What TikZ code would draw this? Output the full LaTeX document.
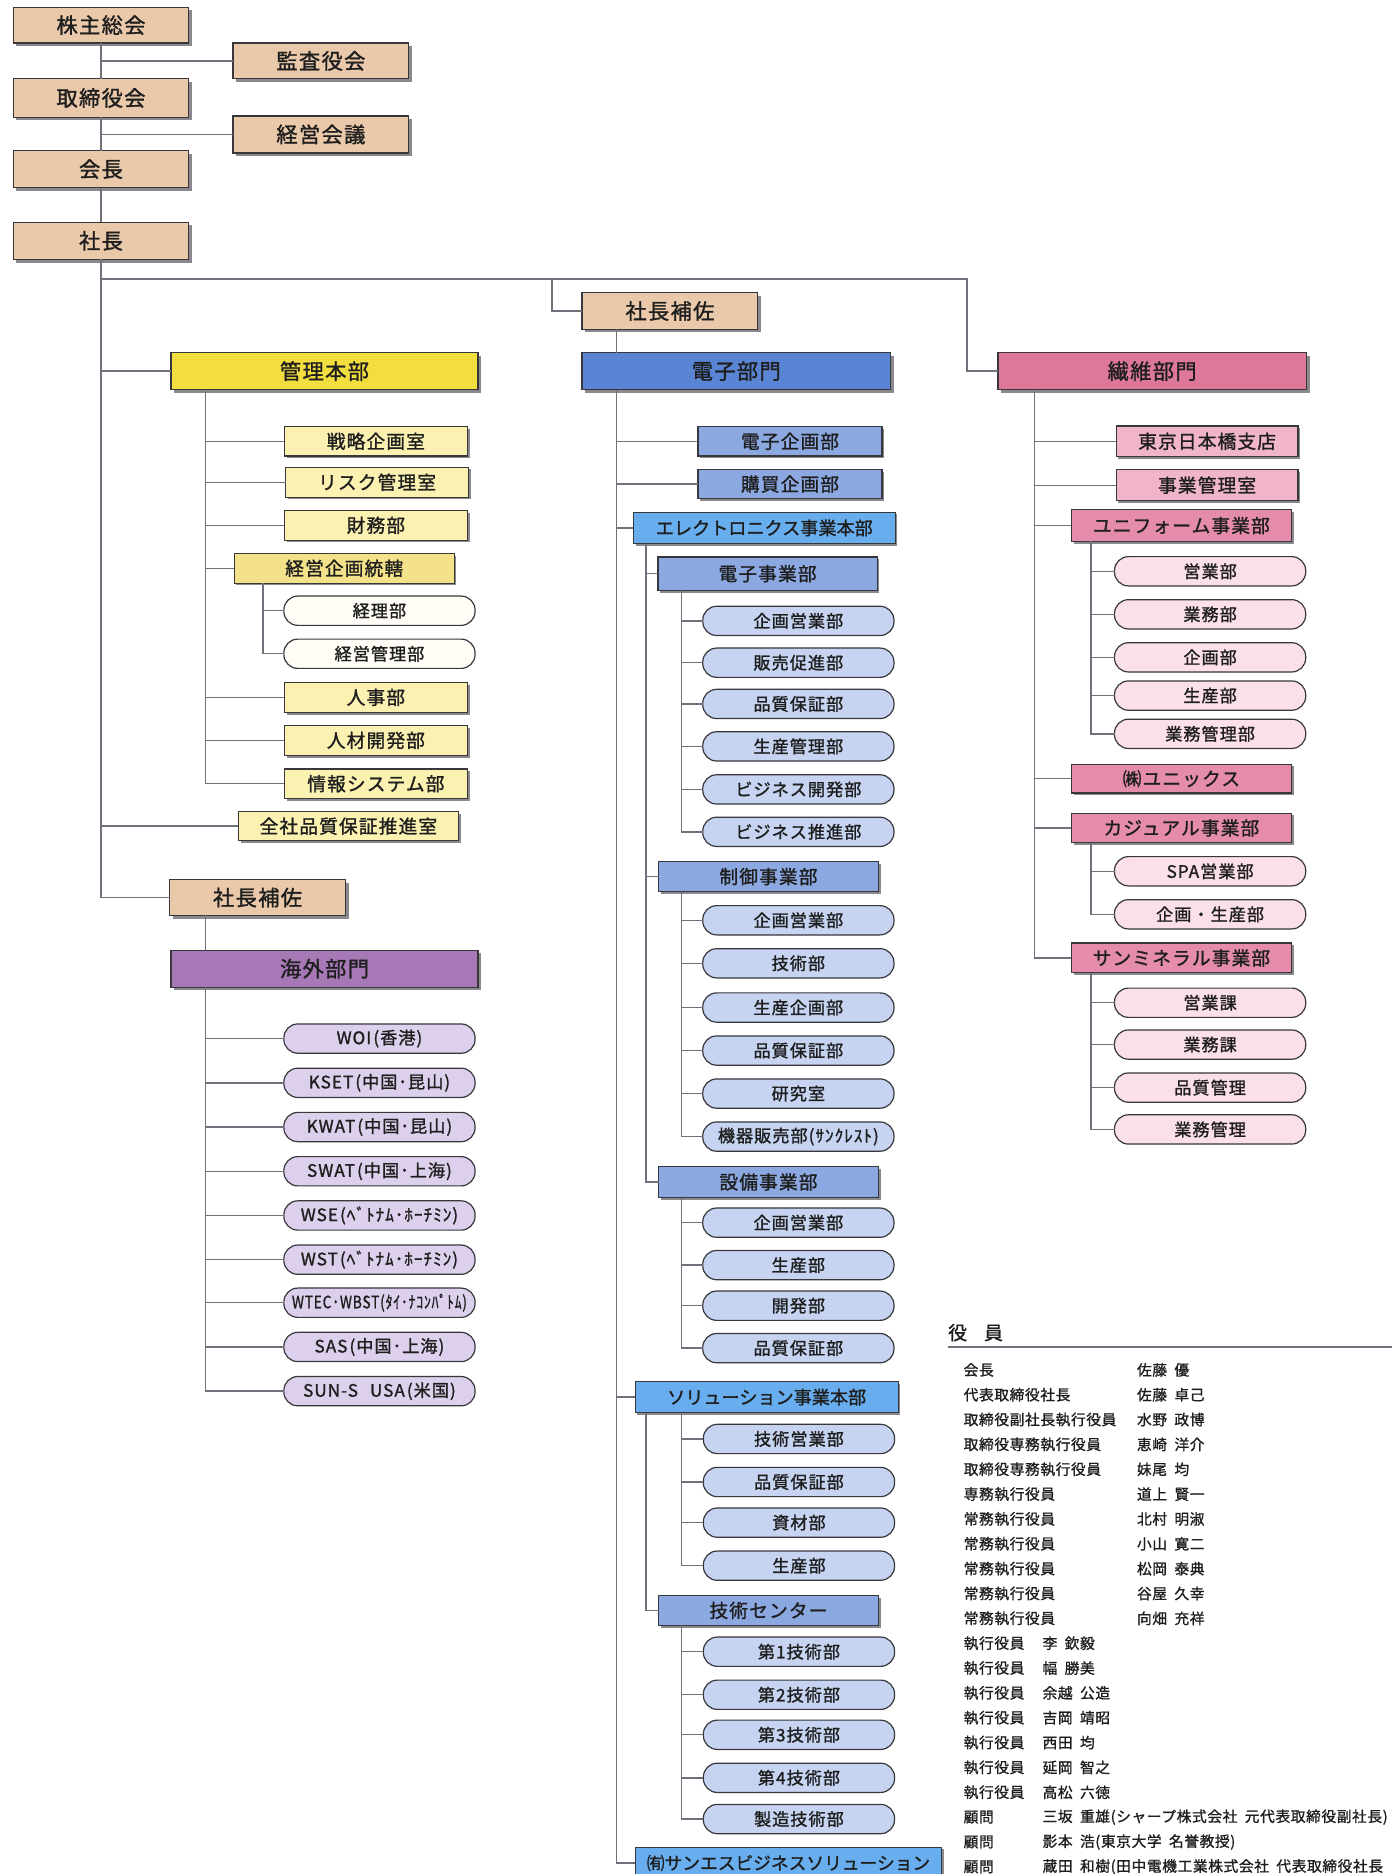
\documentclass[tikz,border=0pt]{standalone}
\usepackage{fontspec}
\usepackage{graphicx}
\setmainfont{Noto Sans CJK JP}
\newfontfamily\bxf[LetterSpace=6,FakeBold=1.3]{Noto Sans CJK JP}
\newfontfamily\bxn[FakeBold=1.3]{Noto Sans CJK JP}
\newfontfamily\tbf[LetterSpace=4,FakeBold=1.1]{Noto Sans CJK JP}
\usetikzlibrary{shadows}
\definecolor{linec}{RGB}{112,112,122}
\definecolor{bordc}{RGB}{55,55,60}
\definecolor{shadc}{RGB}{125,125,130}
\definecolor{txtc}{RGB}{30,30,30}
\definecolor{beige}{RGB}{234,201,170}
\definecolor{ylw}{RGB}{243,222,64}
\definecolor{ylwl}{RGB}{251,242,178}
\definecolor{ylwm}{RGB}{243,226,138}
\definecolor{pillw}{RGB}{255,253,246}
\definecolor{purp}{RGB}{166,120,182}
\definecolor{purpl}{RGB}{221,208,236}
\definecolor{blu}{RGB}{90,133,212}
\definecolor{blum}{RGB}{140,168,224}
\definecolor{blub}{RGB}{104,174,238}
\definecolor{blul}{RGB}{198,212,242}
\definecolor{pnk}{RGB}{222,120,153}
\definecolor{pnkl}{RGB}{241,181,203}
\definecolor{pnkm}{RGB}{229,140,172}
\definecolor{pnkp}{RGB}{251,223,233}
\newcommand\bx[7]{\node[#6, minimum width={(#4-#2)*0.6pt}, minimum height={(#5-#3)*0.6pt}] (#1) at ({(#2+#4)/2},{(#3+#5)/2}) {#7};}
\newcommand\pl[5]{\node[pill, fill=#4] (#1) at (#2,#3) {#5};}
\newcommand\sk{\hspace{0.5em}}
\newcommand\lp{\hspace{0.12em}(}
\newcommand\rp{)\hspace{0.12em}}
\begin{document}
\begin{tikzpicture}[x=0.6pt,y=-0.6pt,
  conn/.style={draw=linec, line width=0.7pt},
  base/.style={draw=bordc, line width=0.6pt, inner sep=0pt, outer sep=0pt, text=txtc},
  mainbox/.style={base, font=\bxf\fontsize{10.7}{12}\selectfont,
     drop shadow={shadow xshift=1.6pt, shadow yshift=-1.6pt, fill=shadc, opacity=0.9}},
  subbox/.style={base, font=\bxf\fontsize{9.4}{11}\selectfont,
     drop shadow={shadow xshift=1.1pt, shadow yshift=-1.1pt, fill=shadc, opacity=0.9}},
  longtxt/.style={font=\bxn\fontsize{9.1}{11}\selectfont},
  pill/.style={base, rounded corners=7pt, minimum width=96pt, minimum height=14.7pt,
     font=\bxf\fontsize{8.6}{10}\selectfont},
  tbl/.style={anchor=west, inner sep=0pt, text=txtc, font=\tbf\fontsize{7.4}{9}\selectfont},
  ttl/.style={anchor=west, inner sep=0pt, text=txtc, font=\tbf\fontsize{9.5}{11}\selectfont}
]
\fill[white] (0,0) rectangle (1165,1568);
\useasboundingbox (0,0) rectangle (1165,1568);

% ---------------- top chain
\bx{kabu}{11}{6}{158}{36}{mainbox,fill=beige}{株主総会}
\bx{kansa}{195}{36}{342}{66}{mainbox,fill=beige}{監査役会}
\bx{tori}{11}{66}{158}{98}{mainbox,fill=beige}{取締役会}
\bx{keiei}{195}{97}{342}{128}{mainbox,fill=beige}{経営会議}
\bx{kaicho}{11}{126}{158}{157}{mainbox,fill=beige}{会長}
\bx{shacho}{11}{186}{158}{217}{mainbox,fill=beige}{社長}

\coordinate (hm) at (461.7,233.5);
\coordinate (hr) at (809,233.5);
\coordinate (tK) at (172,0);
\coordinate (tKT) at (220,0);
\coordinate (tD) at (515.6,0);
\coordinate (tE) at (540.4,0);
\coordinate (tP) at (570,0);
\coordinate (tS) at (865.5,0);
\coordinate (tU) at (913,0);

% ---------------- left: 管理本部
\bx{kanri}{143}{295}{400}{326}{mainbox,fill=ylw}{管理本部}
\bx{senryaku}{238}{357}{391}{381.5}{subbox,fill=ylwl}{戦略企画室}
\bx{risk}{239}{391}{392}{416}{subbox,fill=ylwl}{リスク管理室}
\bx{zaimu}{238}{427}{391}{452}{subbox,fill=ylwl}{財務部}
\bx{tokatsu}{196}{463}{380}{488}{subbox,fill=ylwm}{経営企画統轄}
\pl{keiri}{317.5}{511}{pillw}{経理部}
\pl{keikan}{317.5}{547}{pillw}{経営管理部}
\bx{jinji}{238}{571}{391}{596}{subbox,fill=ylwl}{人事部}
\bx{jinzai}{238}{607}{391}{632}{subbox,fill=ylwl}{人材開発部}
\bx{joho}{238}{643.5}{391}{668}{subbox,fill=ylwl}{情報システム部}
\bx{zensha}{199.5}{679}{383.5}{703.5}{subbox,fill=ylwl}{全社品質保証推進室}

% ---------------- left: 海外部門
\bx{hosa2}{142}{736}{289}{766}{mainbox,fill=beige}{社長補佐}
\bx{kaigai}{143}{795}{400}{826}{mainbox,fill=purp}{海外部門}
\pl{woi}{317.5}{869}{purpl}{WOI\lp 香港\rp}
\pl{kset}{317.5}{906}{purpl}{KSET\lp 中国･昆山\rp}
\pl{kwat}{317.5}{943}{purpl}{KWAT\lp 中国･昆山\rp}
\pl{swat}{317.5}{980}{purpl}{SWAT\lp 中国･上海\rp}
\pl{wse}{317.5}{1017}{purpl}{WSE\lp ﾍﾞﾄﾅﾑ･ﾎｰﾁﾐﾝ\rp}
\pl{wst}{317.5}{1054}{purpl}{WST\lp ﾍﾞﾄﾅﾑ･ﾎｰﾁﾐﾝ\rp}
\pl{wtec}{317.5}{1090}{purpl}{\scalebox{0.8}[1]{WTEC･WBST(ﾀｲ･ﾅｺﾝﾊﾟﾄﾑ)}}
\pl{sas}{317.5}{1127}{purpl}{SAS\lp 中国･上海\rp}
\pl{suns}{317.5}{1164}{purpl}{SUN-S\hspace{0.7em}USA\lp 米国\rp}

% ---------------- middle: 電子部門
\bx{hosa1}{487}{245}{634}{275.5}{mainbox,fill=beige}{社長補佐}
\bx{denshi}{487}{295}{745}{326}{mainbox,fill=blu}{電子部門}
\bx{dkikaku}{584}{357}{738}{381.5}{subbox,fill=blum}{電子企画部}
\bx{kobai}{584}{393}{738}{417}{subbox,fill=blum}{購買企画部}
\bx{elec}{530}{428.5}{749}{455}{subbox,longtxt,fill=blub}{エレクトロニクス事業本部}
\bx{denji}{550.5}{466}{734}{494}{subbox,fill=blum}{電子事業部}
\pl{d1}{668}{519.5}{blul}{企画営業部}
\pl{d2}{668}{554.5}{blul}{販売促進部}
\pl{d3}{668}{589}{blul}{品質保証部}
\pl{d4}{668}{624.5}{blul}{生産管理部}
\pl{d5}{668}{660.5}{blul}{ビジネス開発部}
\pl{d6}{668}{696}{blul}{ビジネス推進部}
\bx{seigyo}{551}{721}{735}{746}{subbox,fill=blum}{制御事業部}
\pl{c1}{668}{770}{blul}{企画営業部}
\pl{c2}{668}{806}{blul}{技術部}
\pl{c3}{668}{843}{blul}{生産企画部}
\pl{c4}{668}{879}{blul}{品質保証部}
\pl{c5}{668}{915}{blul}{研究室}
\pl{c6}{668}{951}{blul}{機器販売部(ｻﾝｸﾚｽﾄ)}
\bx{setsubi}{551}{976}{735}{1002}{subbox,fill=blum}{設備事業部}
\pl{s1}{668}{1023}{blul}{企画営業部}
\pl{s2}{668}{1058.5}{blul}{生産部}
\pl{s3}{668}{1092.5}{blul}{開発部}
\pl{s4}{668}{1128}{blul}{品質保証部}
\bx{sol}{531.5}{1156}{751.5}{1182}{subbox,longtxt,fill=blub}{ソリューション事業本部}
\pl{o1}{668.5}{1204}{blul}{技術営業部}
\pl{o2}{668.5}{1240}{blul}{品質保証部}
\pl{o3}{668.5}{1274}{blul}{資材部}
\pl{o4}{668.5}{1310}{blul}{生産部}
\bx{gc}{551}{1335}{735}{1360}{subbox,fill=blum}{技術センター}
\pl{g1}{668.5}{1382}{blul}{第1技術部}
\pl{g2}{668.5}{1418}{blul}{第2技術部}
\pl{g3}{668.5}{1451.5}{blul}{第3技術部}
\pl{g4}{668.5}{1487.5}{blul}{第4技術部}
\pl{g5}{668.5}{1522}{blul}{製造技術部}
\bx{sanes}{531.5}{1545.5}{788}{1572}{subbox,fill=blub,font=\bxn\fontsize{8.9}{11}\selectfont}{㈲サンエスビジネスソリューション}

% ---------------- right: 繊維部門
\bx{sen}{835}{295}{1093}{326}{mainbox,fill=pnk}{繊維部門}
\bx{tokyo}{934}{356.5}{1086}{382}{subbox,fill=pnkl}{東京日本橋支店}
\bx{jigyo}{934}{393}{1086}{419}{subbox,fill=pnkl}{事業管理室}
\bx{uni}{896.5}{426.5}{1080.5}{453}{subbox,fill=pnkm}{ユニフォーム事業部}
\pl{u1}{1012.5}{478}{pnkp}{営業部}
\pl{u2}{1012.5}{514}{pnkp}{業務部}
\pl{u3}{1012.5}{550}{pnkp}{企画部}
\pl{u4}{1012.5}{582}{pnkp}{生産部}
\pl{u5}{1012.5}{614}{pnkp}{業務管理部}
\bx{unix}{896.5}{639.5}{1080.5}{663.5}{subbox,fill=pnkm}{㈱ユニックス}
\bx{casual}{896.5}{680.5}{1080.5}{705}{subbox,fill=pnkm}{カジュアル事業部}
\pl{k1}{1012.5}{729}{pnkp}{SPA営業部}
\pl{k2}{1012.5}{765}{pnkp}{企画・生産部}
\bx{sanmin}{896.5}{789}{1080.5}{814}{subbox,fill=pnkm}{サンミネラル事業部}
\pl{m1}{1012.5}{839}{pnkp}{営業課}
\pl{m2}{1012.5}{874}{pnkp}{業務課}
\pl{m3}{1012.5}{910}{pnkp}{品質管理}
\pl{m4}{1012.5}{945}{pnkp}{業務管理}

% ---------------- connectors
\draw[conn] (kabu.south) -- (tori.north);
\draw[conn] (tori.south) -- (kaicho.north);
\draw[conn] (kaicho.south) -- (shacho.north);
\draw[conn] (kansa.west) -- (kansa.west -| kabu.south);
\draw[conn] (keiei.west) -- (keiei.west -| tori.south);
\draw[conn] (shacho.south) |- (hosa2.west);
\draw[conn] (shacho.south) |- (kanri.west);
\draw[conn] (shacho.south) |- (zensha.west);
\draw[conn] (shacho.south) |- (hr) |- (sen.west);
\draw[conn] (hm) |- (hosa1.west);
\foreach \c in {senryaku,risk,zaimu,tokatsu,jinji,jinzai,joho}
  \draw[conn] (kanri.south -| tK) |- (\c.west);
\foreach \c in {keiri,keikan}
  \draw[conn] (tokatsu.south -| tKT) |- (\c.west);
\draw[conn] (hosa2.south -| tK) -- (kaigai.north -| tK);
\foreach \c in {woi,kset,kwat,swat,wse,wst,wtec,sas,suns}
  \draw[conn] (kaigai.south -| tK) |- (\c.west);
\draw[conn] (hosa1.south -| tD) -- (denshi.north -| tD);
\foreach \c in {dkikaku,kobai,elec,sol,sanes}
  \draw[conn] (denshi.south -| tD) |- (\c.west);
\foreach \c in {denji,seigyo,setsubi}
  \draw[conn] (elec.south -| tE) |- (\c.west);
\foreach \c in {d1,d2,d3,d4,d5,d6}
  \draw[conn] (denji.south -| tP) |- (\c.west);
\foreach \c in {c1,c2,c3,c4,c5,c6}
  \draw[conn] (seigyo.south -| tP) |- (\c.west);
\foreach \c in {s1,s2,s3,s4}
  \draw[conn] (setsubi.south -| tP) |- (\c.west);
\draw[conn] (sol.south -| tE) |- (gc.west);
\foreach \c in {o1,o2,o3,o4}
  \draw[conn] (sol.south -| tP) |- (\c.west);
\foreach \c in {g1,g2,g3,g4,g5}
  \draw[conn] (gc.south -| tP) |- (\c.west);
\foreach \c in {tokyo,jigyo,uni,unix,casual,sanmin}
  \draw[conn] (sen.south -| tS) |- (\c.west);
\foreach \c in {u1,u2,u3,u4,u5}
  \draw[conn] (uni.south -| tU) |- (\c.west);
\foreach \c in {k1,k2}
  \draw[conn] (casual.south -| tU) |- (\c.west);
\foreach \c in {m1,m2,m3,m4}
  \draw[conn] (sanmin.south -| tU) |- (\c.west);

% ---------------- 役員
\node[ttl] (yakuin) at (793,1115) {役\hspace{0.9em}員};
\draw[draw=linec, line width=0.8pt] (793,1127) -- (1165,1127);
\foreach \a/\b [count=\i] in {会長/佐藤\sk 優, 代表取締役社長/佐藤\sk 卓己,
   取締役副社長執行役員/水野\sk 政博, 取締役専務執行役員/恵崎\sk 洋介,
   取締役専務執行役員/妹尾\sk 均, 専務執行役員/道上\sk 賢一,
   常務執行役員/北村\sk 明淑, 常務執行役員/小山\sk 寛二,
   常務執行役員/松岡\sk 泰典, 常務執行役員/谷屋\sk 久幸,
   常務執行役員/向畑\sk 充祥}
{
  \node[tbl] (ra\i) at (806,{1146.2+(\i-1)*20.79}) {\a};
  \node[tbl] (rb\i) at (951,{1146.2+(\i-1)*20.79}) {\b};
}
\foreach \a/\b [count=\i from 12] in {執行役員/李\sk 欽毅, 執行役員/幅\sk 勝美,
   執行役員/余越\sk 公造, 執行役員/吉岡\sk 靖昭, 執行役員/西田\sk 均,
   執行役員/延岡\sk 智之, 執行役員/高松\sk 六徳,
   顧問/三坂\sk 重雄(シャープ株式会社\sk 元代表取締役副社長),
   顧問/影本\sk 浩(東京大学\sk 名誉教授),
   顧問/蔵田\sk 和樹(田中電機工業株式会社\sk 代表取締役社長}
{
  \node[tbl] (ra\i) at (806,{1146.2+(\i-1)*20.79}) {\a};
  \node[tbl] (rb\i) at (872,{1146.2+(\i-1)*20.79}) {\b};
}
\end{tikzpicture}
\end{document}
